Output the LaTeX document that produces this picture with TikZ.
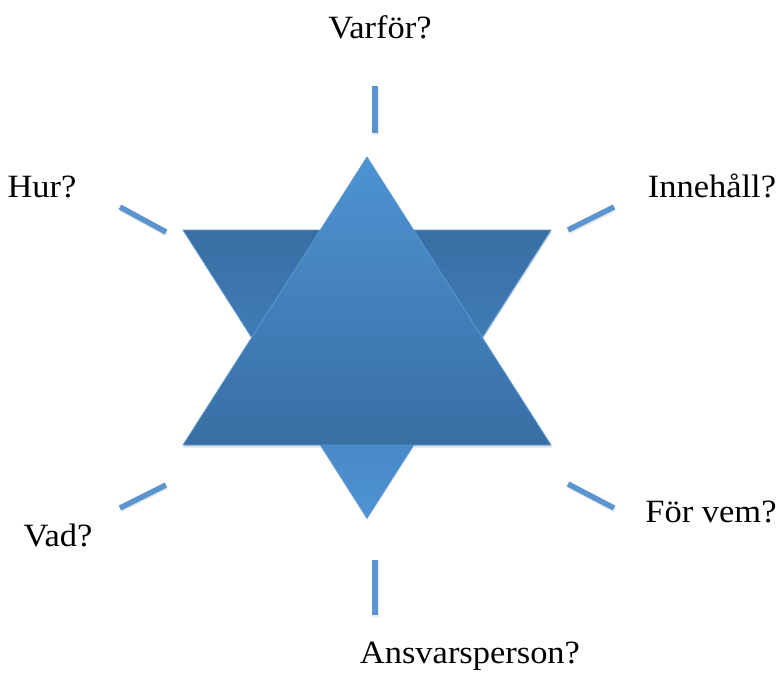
\documentclass[tikz,border=0pt]{standalone}
\usepackage{fontspec}
\setmainfont[FakeStretch=1.06]{Liberation Serif}
\definecolor{lightblue}{HTML}{4E93D3}
\definecolor{darkblue}{HTML}{386EA3}
\definecolor{dashblue}{HTML}{5B95CF}
\definecolor{edgeblue}{HTML}{5A98D6}
\begin{document}
\begin{tikzpicture}[x=1pt,y=-1pt,
  lbl/.style={anchor=base,inner sep=0pt,font=\fontsize{32.5}{38}\selectfont},
  tick/.style={draw=dashblue,line width=5.5pt},
  tri/.style={draw=edgeblue,line width=0.8pt,line join=miter}]
\useasboundingbox (0,0) rectangle (779,675);
% shadows
\fill[black!12] (184,232) -- (552,232) -- (367,520) -- cycle;
\fill[black!12] (367,159) -- (552,447.5) -- (183,447.5) -- cycle;
% down triangle
\shade[tri,top color=darkblue,bottom color=lightblue] (183,230) coordinate (dl) -- (551,230) coordinate (dr) -- (367,518) coordinate (db) -- cycle;
% up triangle
\shade[tri,top color=lightblue,bottom color=darkblue] (367,157) coordinate (ut) -- (551,445) coordinate (ur) -- (183,445) coordinate (ul) -- cycle;
% ticks
\coordinate (t1a) at (375,86); \coordinate (t1b) at (375,133);
\coordinate (t2a) at (120,207); \coordinate (t2b) at (166,232);
\coordinate (t3a) at (568,230); \coordinate (t3b) at (614,207);
\coordinate (t4a) at (120,508); \coordinate (t4b) at (166,485);
\coordinate (t5a) at (568,484); \coordinate (t5b) at (614,508);
\coordinate (t6a) at (375,560); \coordinate (t6b) at (375,615);
\foreach \i in {1,...,6}{
  \draw[line width=5.5pt,black!8] ([shift={(0.8,1.8)}]t\i a) -- ([shift={(0.8,1.8)}]t\i b);
  \draw[tick] (t\i a) -- (t\i b);
}
% labels
\node[lbl] (varfor) at (380,38) {Varför?};
\node[lbl] (hur) at (42,197) {Hur?};
\node[lbl] (inneh) at (712,197) {Innehåll?};
\node[lbl] (vad) at (58,546) {Vad?};
\node[lbl] (forvem) at (711,522) {För vem?};
\node[lbl] (ansv) at (470,663) {Ansvarsperson?};
\end{tikzpicture}
\end{document}
